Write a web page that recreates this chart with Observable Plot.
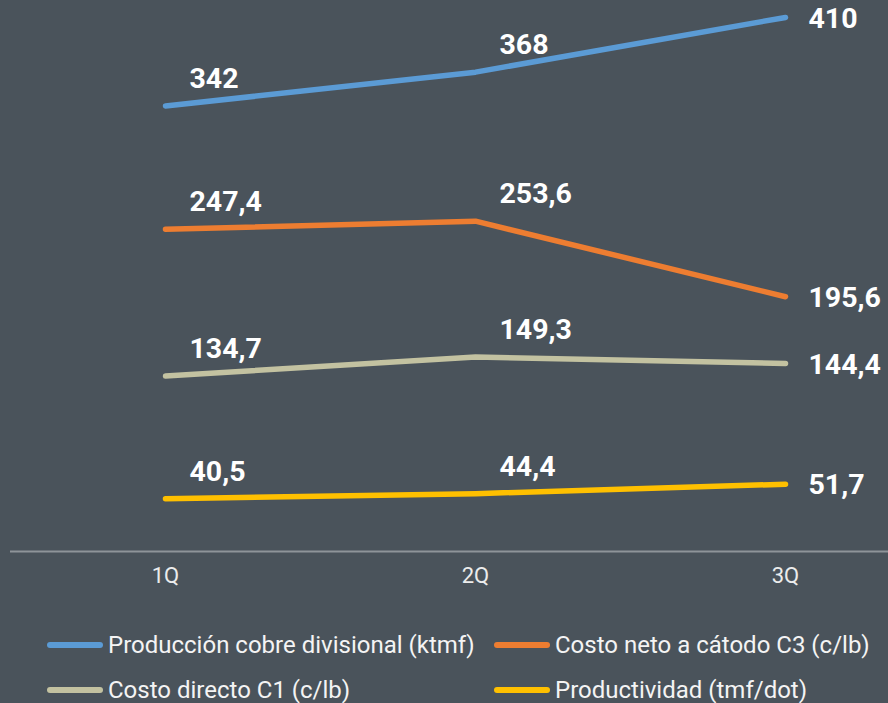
<!DOCTYPE html>
<html>
<head>
<meta charset="utf-8">
<script src="https://cdn.jsdelivr.net/npm/d3@7"></script>
<script src="https://cdn.jsdelivr.net/npm/@observablehq/plot@0.6"></script>
<style>
  html, body { margin: 0; padding: 0; background: #4a535b; }
  body { width: 888px; height: 703px; position: relative; overflow: hidden; font-family: Roboto, "Noto Sans", sans-serif; }
  #chart { position: absolute; left: 0; top: 0; }
  #legend { position: absolute; left: 0; top: 622px; width: 888px; }
  .item { position: absolute; display: flex; align-items: center; height: 46px; color: #f4f4f4; font-size: 24px; white-space: nowrap; }
  .sw { width: 56px; height: 6px; border-radius: 3px; margin-right: 5px; }
</style>
</head>
<body>
<div id="chart"></div>
<div id="legend"></div>
<script>
const quarters = ["1Q", "2Q", "3Q"];
const seriesNames = [
  "Producción cobre divisional (ktmf)",
  "Costo neto a cátodo C3 (c/lb)",
  "Costo directo C1 (c/lb)",
  "Productividad (tmf/dot)"
];
const produccion = [342, 368, 410];
const costoNeto = [247.4, 253.6, 195.6];
const costoDirecto = [134.7, 149.3, 144.4];
const productividad = [40.5, 44.4, 51.7];
const seriesColors = ["#5b9bd5", "#ed7d31", "#c3c2a1", "#ffc000"];

const seriesValues = [produccion, costoNeto, costoDirecto, productividad];
const data = [];
seriesNames.forEach((s, i) => {
  quarters.forEach((q, j) => {
    data.push({ s, q, v: seriesValues[i][j], last: j === quarters.length - 1 });
  });
});
const fmt = v => Number.isInteger(v) ? String(v) : v.toFixed(1).replace(".", ",");

const chart = Plot.plot({
  width: 888,
  height: 600,
  marginTop: 0,
  marginLeft: 10,
  marginRight: 0,
  marginBottom: 49,
  style: { background: "transparent", color: "#ececec", fontFamily: "Roboto" },
  x: { type: "point", domain: quarters, range: [165, 785], padding: 0, axis: null },
  y: { domain: [0, 423], axis: null },
  color: { domain: seriesNames, range: seriesColors },
  marks: [
    Plot.ruleY([0], { stroke: "#8e9499", strokeWidth: 2 }),
    Plot.text(quarters, { x: d => d, frameAnchor: "bottom", dy: 31, text: d => d, fontSize: 22, fill: "#ececec" }),
    Plot.line(data, { x: "q", y: "v", z: "s", stroke: "s", strokeWidth: 5.5, strokeLinecap: "round", strokeLinejoin: "round" }),
    Plot.text(data.filter(d => !d.last), { x: "q", y: "v", text: d => fmt(d.v), textAnchor: "start", dx: 24, dy: -27, fontSize: 28.5, fontWeight: "bold", fill: "#ffffff" }),
    Plot.text(data.filter(d => d.last), { x: "q", y: "v", text: d => fmt(d.v), textAnchor: "start", dx: 23, dy: 1, fontSize: 28.5, fontWeight: "bold", fill: "#ffffff" })
  ]
});
document.getElementById("chart").appendChild(chart);

const legend = document.getElementById("legend");
const legendLeft = [47, 494];
seriesNames.forEach((s, i) => {
  const item = document.createElement("div");
  item.className = "item";
  item.style.left = legendLeft[i % 2] + "px";
  item.style.top = (Math.floor(i / 2) * 45) + "px";
  const sw = document.createElement("span");
  sw.className = "sw";
  sw.style.background = seriesColors[i];
  const t = document.createElement("span");
  t.textContent = s;
  item.appendChild(sw);
  item.appendChild(t);
  legend.appendChild(item);
});
</script>
</body>
</html>
